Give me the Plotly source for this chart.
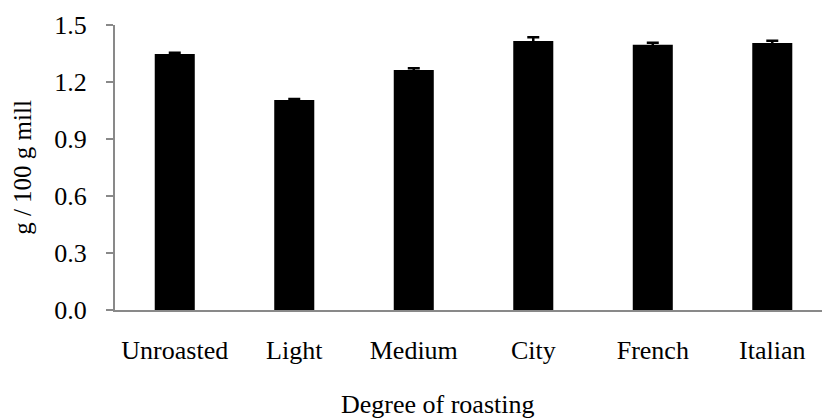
import plotly.graph_objects as go

# Roasting degrees and measured contents (g / 100 g mill) with standard errors
categories = ["Unroasted", "Light", "Medium", "City", "French", "Italian"]
values = [1.347, 1.105, 1.263, 1.416, 1.396, 1.405]
errors = [0.007, 0.005, 0.010, 0.020, 0.011, 0.012]
y_ticks = [0.0, 0.3, 0.6, 0.9, 1.2, 1.5]

FONT = "Liberation Serif"
AXIS_GREY = "#898989"

fig = go.Figure(
    go.Bar(
        x=categories,
        y=values,
        marker=dict(color="black", line=dict(width=0)),
        error_y=dict(type="data", array=errors, visible=True,
                     color="black", thickness=2.5, width=6),
        width=0.335,
    )
)

fig.update_layout(
    width=822,
    height=418,
    margin=dict(l=115, r=0, t=25, b=108),
    plot_bgcolor="white",
    paper_bgcolor="white",
    showlegend=False,
    font=dict(family=FONT, size=26, color="black"),
    xaxis=dict(
        range=[-0.5, 5.416],
        showline=True,
        linecolor=AXIS_GREY,
        linewidth=2,
        ticks="",
        showgrid=False,
        ticklabelstandoff=16,
        tickfont=dict(family=FONT, size=26, color="black"),
    ),
    yaxis=dict(
        range=[0, 1.5],
        tickvals=y_ticks,
        tickformat=".1f",
        showline=True,
        linecolor=AXIS_GREY,
        linewidth=2,
        ticks="outside",
        ticklen=7,
        tickwidth=2,
        tickcolor=AXIS_GREY,
        showgrid=False,
        zeroline=False,
        ticklabelstandoff=14,
        tickfont=dict(family=FONT, size=26, color="black"),
        title=dict(text="g / 100 g mill", font=dict(family=FONT, size=25), standoff=16),
    ),
    annotations=[
        dict(
            text="Degree of roasting",
            xref="paper", yref="paper",
            x=(437 - 115) / 707, y=-(404 - 310) / 285,
            xanchor="center", yanchor="middle",
            showarrow=False,
            font=dict(family=FONT, size=26, color="black"),
        )
    ],
)

fig.write_html("out.html")
